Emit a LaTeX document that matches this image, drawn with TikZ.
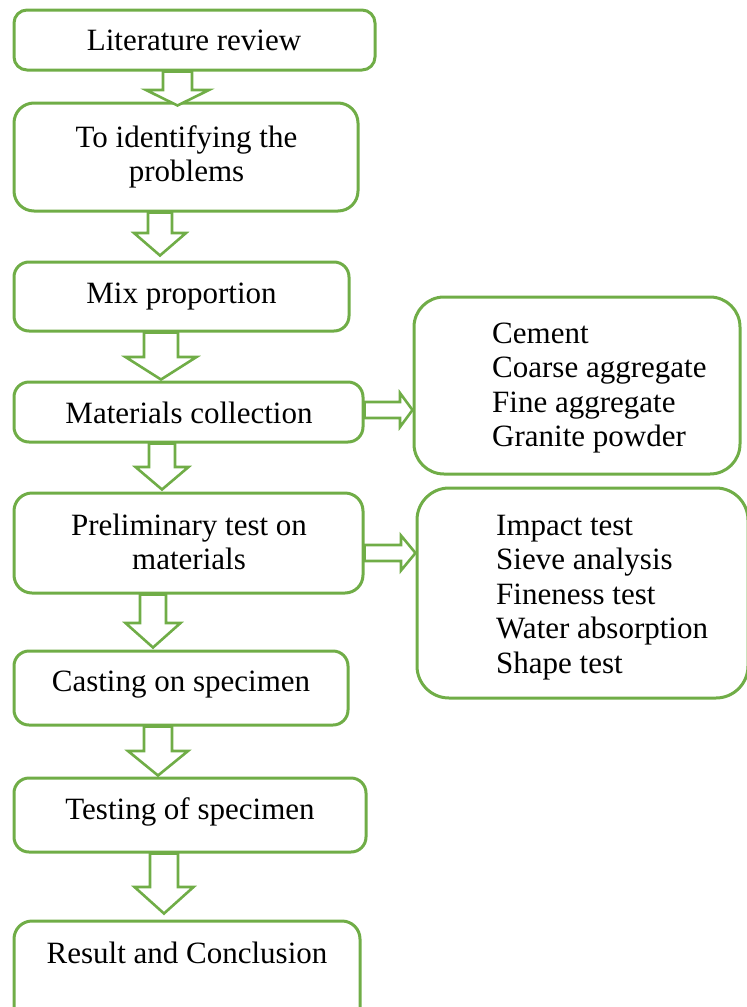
\documentclass[tikz,border=0pt]{standalone}
\usepackage{fontspec}
\setmainfont{Liberation Serif}
\usetikzlibrary{calc}
\definecolor{grn}{RGB}{112,173,71}
\newcommand\downarr[7]{%
  \draw[blockarrow] let \p1=(#1.south), \p2=(#2.north) in
    ({(#3-#4)*1pt},\y1) -- ({(#3-#4)*1pt},{-#6*1pt}) -- ({(#3-#5)*1pt},{-#6*1pt})
    -- ({#3*1pt},{\y2-(#7)*1pt}) -- ({(#3+#5)*1pt},{-#6*1pt}) -- ({(#3+#4)*1pt},{-#6*1pt})
    -- ({(#3+#4)*1pt},\y1) -- cycle;}
\newcommand\rightarr[6]{%
  \draw[blockarrow] let \p1=(#1.east), \p2=(#2.west) in
    (\x1,{-(#3-#4)*1pt}) -- ({#6*1pt},{-(#3-#4)*1pt}) -- ({#6*1pt},{-(#3-#5)*1pt})
    -- (\x2,{-#3*1pt}) -- ({#6*1pt},{-(#3+#5)*1pt}) -- ({#6*1pt},{-(#3+#4)*1pt})
    -- (\x1,{-(#3+#4)*1pt}) -- cycle;}
\begin{document}
\begin{tikzpicture}[x=1pt,y=-1pt,
  box/.style={draw=grn, line width=3pt, inner sep=0pt},
  txt/.style={font=\fontsize{31pt}{34.5pt}\selectfont, inner sep=0pt},
  blockarrow/.style={draw=grn, line width=2.6pt, fill=white, line join=miter}]
\useasboundingbox (0,0) rectangle (747,1007);
% main boxes
\node[box, minimum width=361pt, minimum height=60pt, rounded corners=13pt] (b1) at (194.5,40) {};
\node[box, minimum width=344pt, minimum height=108pt, rounded corners=20pt] (b2) at (186,157) {};
\node[box, minimum width=335pt, minimum height=69pt, rounded corners=15pt] (b3) at (181.5,296.5) {};
\node[box, minimum width=349pt, minimum height=60pt, rounded corners=15pt] (b4) at (188.5,412) {};
\node[box, minimum width=349pt, minimum height=100pt, rounded corners=18pt] (b5) at (188.5,543) {};
\node[box, minimum width=334pt, minimum height=74pt, rounded corners=15pt] (b6) at (181,688) {};
\node[box, minimum width=352pt, minimum height=74pt, rounded corners=15pt] (b7) at (190,815) {};
\node[box, minimum width=346pt, minimum height=110pt, rounded corners=18pt] (b8) at (187,976) {};
% side boxes
\node[box, minimum width=326pt, minimum height=177pt, rounded corners=30pt] (r1) at (577,385.5) {};
\node[box, minimum width=331pt, minimum height=210pt, rounded corners=32pt] (r2) at (582.5,593) {};
% texts
\node[txt, anchor=base] (t1) at (194,50) {Literature review};
\node[txt, anchor=north, align=center] (t2) at (186.5,122.85) {\strut To identifying the\\\strut problems};
\node[txt, anchor=base] (t3) at (181.5,303) {Mix proportion};
\node[txt, anchor=base] (t4) at (189,423) {Materials collection};
\node[txt, anchor=north, align=center] (t5) at (189,510.85) {\strut Preliminary test on\\\strut materials};
\node[txt, anchor=base] (t6) at (181,691) {Casting on specimen};
\node[txt, anchor=base] (t7) at (190,819) {Testing of specimen};
\node[txt, anchor=base] (t8) at (187,963) {Result and Conclusion};
\node[txt, anchor=north west, align=left] (s1) at (492,318.85)
  {\strut Cement\\\strut Coarse aggregate\\\strut Fine aggregate\\\strut Granite powder};
\node[txt, anchor=north west, align=left] (s2) at (496,510.85)
  {\strut Impact test\\\strut Sieve analysis\\\strut Fineness test\\\strut Water absorption\\\strut Shape test};
% block arrows
\downarr{b1}{b2}{177.5}{14.5}{31.5}{90}{4}
\downarr{b2}{b3}{160}{12}{26}{233}{-5}
\downarr{b3}{b4}{161}{17}{35.5}{357}{-1}
\downarr{b4}{b5}{162}{13}{26.5}{467}{-2}
\downarr{b5}{b6}{153}{13}{27.5}{623}{-2}
\downarr{b6}{b7}{158}{14}{30}{751}{-1}
\downarr{b7}{b8}{164}{14}{29.5}{887}{-6}
\rightarr{b4}{r1}{410}{8}{17}{400}
\rightarr{b5}{r2}{553}{8}{17.5}{401}
\end{tikzpicture}
\end{document}
